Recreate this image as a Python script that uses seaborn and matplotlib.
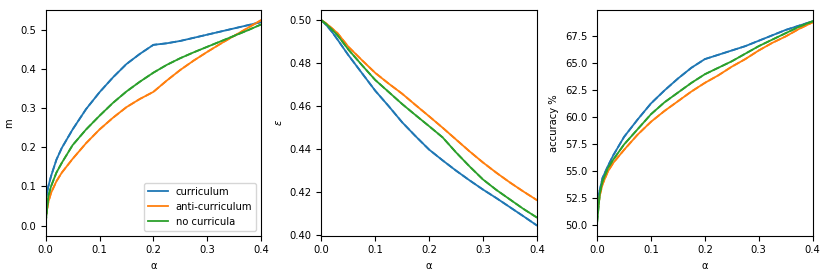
import numpy as np
import pandas as pd
import matplotlib
matplotlib.use('Agg')
import matplotlib.pyplot as plt
import seaborn as sns

# valores
alpha = [0, 0.005, 0.01, 0.02, 0.03, 0.05, 0.075, 0.1, 0.125, 0.15, 0.175,
         0.2, 0.225, 0.25, 0.275, 0.3, 0.325, 0.35, 0.375, 0.4]
labels = ['curriculum', 'anti-curriculum', 'no curricula']

m_curr = [0.065, 0.10, 0.126, 0.168, 0.198, 0.245, 0.297, 0.34, 0.378, 0.412, 0.438,
          0.461, 0.465, 0.471, 0.479, 0.487, 0.495, 0.503, 0.511, 0.519]
m_anti = [0.02, 0.06, 0.083, 0.113, 0.135, 0.17, 0.21, 0.245, 0.275, 0.302, 0.323,
          0.341, 0.37, 0.397, 0.421, 0.443, 0.464, 0.484, 0.504, 0.524]
m_none = [0.005, 0.075, 0.10, 0.135, 0.160, 0.205, 0.245, 0.28, 0.313, 0.342, 0.367,
          0.39, 0.41, 0.427, 0.442, 0.456, 0.47, 0.484, 0.498, 0.513]

eps_curr = [0.5, 0.4988, 0.4975, 0.4945, 0.491, 0.4838, 0.4755, 0.4672, 0.460, 0.4525, 0.446,
            0.4398, 0.4348, 0.4300, 0.4255, 0.4212, 0.4172, 0.4130, 0.4088, 0.4045]
eps_anti = [0.5, 0.4992, 0.4983, 0.4962, 0.4940, 0.4877, 0.4815, 0.4755, 0.4705, 0.4658, 0.4605,
            0.4553, 0.4500, 0.4445, 0.4390, 0.4338, 0.4290, 0.4245, 0.4203, 0.4163]
eps_none = [0.5, 0.4990, 0.4980, 0.4956, 0.4930, 0.4864, 0.4792, 0.4722, 0.4666, 0.4610, 0.4558,
            0.4507, 0.4455, 0.4385, 0.4320, 0.4259, 0.4210, 0.4166, 0.4122, 0.4082]

acc_curr = [52.3, 53.3, 54.4, 55.5, 56.5, 58.2, 59.8, 61.3, 62.5, 63.6, 64.6,
            65.4, 65.8, 66.2, 66.6, 67.1, 67.6, 68.1, 68.5, 68.9]
acc_anti = [51.0, 52.8, 53.8, 55.0, 55.8, 57.0, 58.4, 59.6, 60.6, 61.5, 62.4,
            63.2, 63.9, 64.7, 65.4, 66.2, 66.9, 67.5, 68.2, 68.8]
acc_none = [50.3, 53.0, 54.1, 55.3, 56.1, 57.5, 58.9, 60.3, 61.4, 62.3, 63.2,
            64.0, 64.6, 65.2, 65.9, 66.6, 67.2, 67.8, 68.4, 68.9]

colores = sns.color_palette('tab10', 3)

plt.rcParams['font.size'] = 7.2
fig, axes = plt.subplots(1, 3, figsize=(8.3, 2.77), dpi=100)
fig.subplots_adjust(left=0.055, right=0.979, top=0.964, bottom=0.149, wspace=0.28)

paneles = [
    ([m_curr, m_anti, m_none], 'm', (-0.026, 0.55)),
    ([eps_curr, eps_anti, eps_none], r'$\epsilon$', (0.3997, 0.5048)),
    ([acc_curr, acc_anti, acc_none], 'accuracy %', (49.05, 69.95)),
]

for i, (series, ylab, ylim) in enumerate(paneles):
    ax = axes[i]
    for s, lab, c in zip(series, labels, colores):
        df = pd.DataFrame({'alpha': alpha, 'y': s})
        sns.lineplot(data=df, x='alpha', y='y', ax=ax, color=c, lw=1.3, label=lab)
        sns.lineplot(data=df, x='alpha', y='y', ax=ax, color=c, lw=1.3, ls='--')
    ax.set_xlim(0, 0.4)
    ax.set_ylim(*ylim)
    ax.set_xlabel('α')
    ax.set_ylabel(ylab)
    ax.set_xticks([0.0, 0.1, 0.2, 0.3, 0.4])
    if i == 0:
        ax.legend(loc='lower right', fontsize=7.2)
    elif ax.get_legend():
        ax.get_legend().remove()

axes[1].set_yticks([0.40, 0.42, 0.44, 0.46, 0.48, 0.50])
axes[2].set_yticks([50.0, 52.5, 55.0, 57.5, 60.0, 62.5, 65.0, 67.5])
axes[2].yaxis.set_major_formatter(matplotlib.ticker.FormatStrFormatter('%.1f'))

plt.savefig('out.png', dpi=100)
